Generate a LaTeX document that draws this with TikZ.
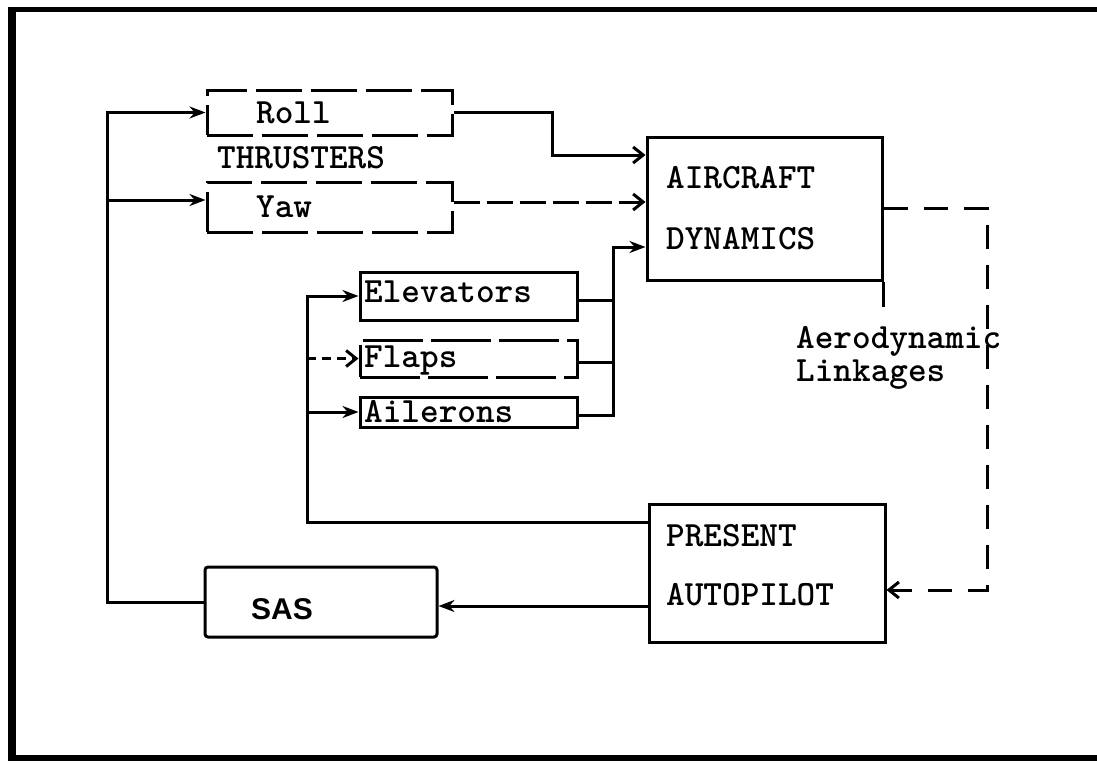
\documentclass[tikz,border=0pt]{standalone}
\usepackage{fontspec}
\newfontfamily\sasfont{Liberation Sans}
\usetikzlibrary{arrows.meta,calc}
\begin{document}
\begin{tikzpicture}[x=1pt,y=-1pt,
  ln/.style={line width=3pt},
  box/.style={draw,line width=3pt,inner sep=0pt},
  dbox/.style={box,dash pattern=on 46pt off 9pt},
  txt/.style={inner sep=0pt,anchor=base west,font=\ttfamily\bfseries\fontsize{35.5}{31}\selectfont},
  sarrow/.style={ln,-{Stealth[length=16pt,width=12pt]}},
  oarrow/.style={ln,-{Straight Barb[length=10pt,width=16pt]}},
  fb/.style={ln,dash pattern=on 24pt off 16pt},
  dline/.style={ln,dash pattern=on 26pt off 7pt}]
\useasboundingbox (0,0) rectangle (1097,763);
% frame
\draw[line width=8pt] (12,8) -- (12,760);
\draw[line width=5pt] (8,9) -- (1097,9);
\draw[line width=6pt] (8,758) -- (1097,758);

% boxes
\node[dbox,minimum width=245pt,minimum height=45pt] (roll) at (329.5,112.5) {};
\node[dbox,minimum width=245pt,minimum height=50pt] (yaw) at (329.5,207) {};
\node[box,minimum width=235pt,minimum height=143pt] (ac) at (764.5,208.5) {};
\node[box,minimum width=217pt,minimum height=48pt] (elev) at (468.5,296) {};
\node[box,dash pattern=on 60pt off 8pt,minimum width=217pt,minimum height=37pt] (flaps) at (468.5,358.5) {};
\node[box,minimum width=217pt,minimum height=30pt] (ail) at (468.5,412) {};
\node[box,minimum width=236pt,minimum height=138pt] (pa) at (767,573) {};
\node[box,rounded corners=3pt,minimum width=232pt,minimum height=70pt] (sas) at (321,602) {};

% texts
\node[txt] (trol) at (256,123) {Roll};
\node[txt] (tthr) at (217,168) {THRUSTERS};
\node[txt] (tyaw) at (256,217) {Yaw};
\node[txt] (tac1) at (666,188) {AIRCRAFT};
\node[txt] (tac2) at (666,249) {DYNAMICS};
\node[txt] (tele) at (364,302) {Elevators};
\node[txt] (tfla) at (364,367) {Flaps};
\node[txt] (tail) at (364,422) {Ailerons};
\node[txt,fill=white] (taer1) at (796,348) {Aerodynamic};
\node[txt,fill=white] (taer2) at (796,381) {Linkages};
\node[txt] (tpa1) at (666,546) {PRESENT};
\node[txt] (tpa2) at (666,605) {AUTOPILOT};
\node[inner sep=0pt,anchor=base west,font=\sasfont\bfseries\fontsize{30}{30}\selectfont] (tsas) at (251,619) {SAS};

% outer bus from SAS to thrusters
\coordinate (ob) at (107,0);
\coordinate (yawin) at ($(yaw.west)+(0,-7)$);
\draw[sarrow] (sas.west) -- (sas.west -| ob) -- (ob |- roll.west) -- (roll.west);
\draw[sarrow] (ob |- yawin) -- (yawin);

% thrusters to aircraft dynamics
\coordinate (r1) at (552,155);
\draw[oarrow] (roll.east) -| (r1) -- (r1 -| ac.west);
\coordinate (yawout) at ($(yaw.east)+(0,-5)$);
\draw[dline,-{Straight Barb[length=10pt,width=16pt]}] (yawout) -- (yawout -| ac.west);

% control surfaces to aircraft dynamics
\coordinate (j) at (613,247);
\coordinate (eo) at ($(elev.east)+(0,4)$);
\coordinate (fo) at ($(flaps.east)+(0,4)$);
\coordinate (ao) at ($(ail.east)+(0,3)$);
\draw[sarrow] (ao) -- (ao -| j) -- (j) -- (j -| ac.west);
\draw[ln] (eo) -- (eo -| j);
\draw[ln] (fo) -- (fo -| j);
\draw[ln] (ac.south east) -- ++(0,25);

% aerodynamic linkages feedback
\coordinate (f1) at (987,590);
\draw[fb] (ac.east) -| (f1) -- ($(f1 -| pa.east)+(16,0)$);
\draw[oarrow] ($(f1 -| pa.east)+(18,0)$) -- (f1 -| pa.east);

% autopilot to control surfaces
\coordinate (ib) at (307,522);
\coordinate (paout) at ($(pa.west)+(0,-51)$);
\draw[sarrow] (paout) -- (ib) |- (elev.west);
\draw[ln,dash pattern=on 9pt off 6pt,-{Straight Barb[length=10pt,width=16pt]}] (ib |- flaps.west) -- (flaps.west);
\draw[sarrow] (ib |- ail.west) -- (ail.west);

% autopilot to SAS
\coordinate (pas) at ($(pa.west)+(0,33)$);
\draw[sarrow] (pas) -- (pas -| sas.east);
\end{tikzpicture}
\end{document}
